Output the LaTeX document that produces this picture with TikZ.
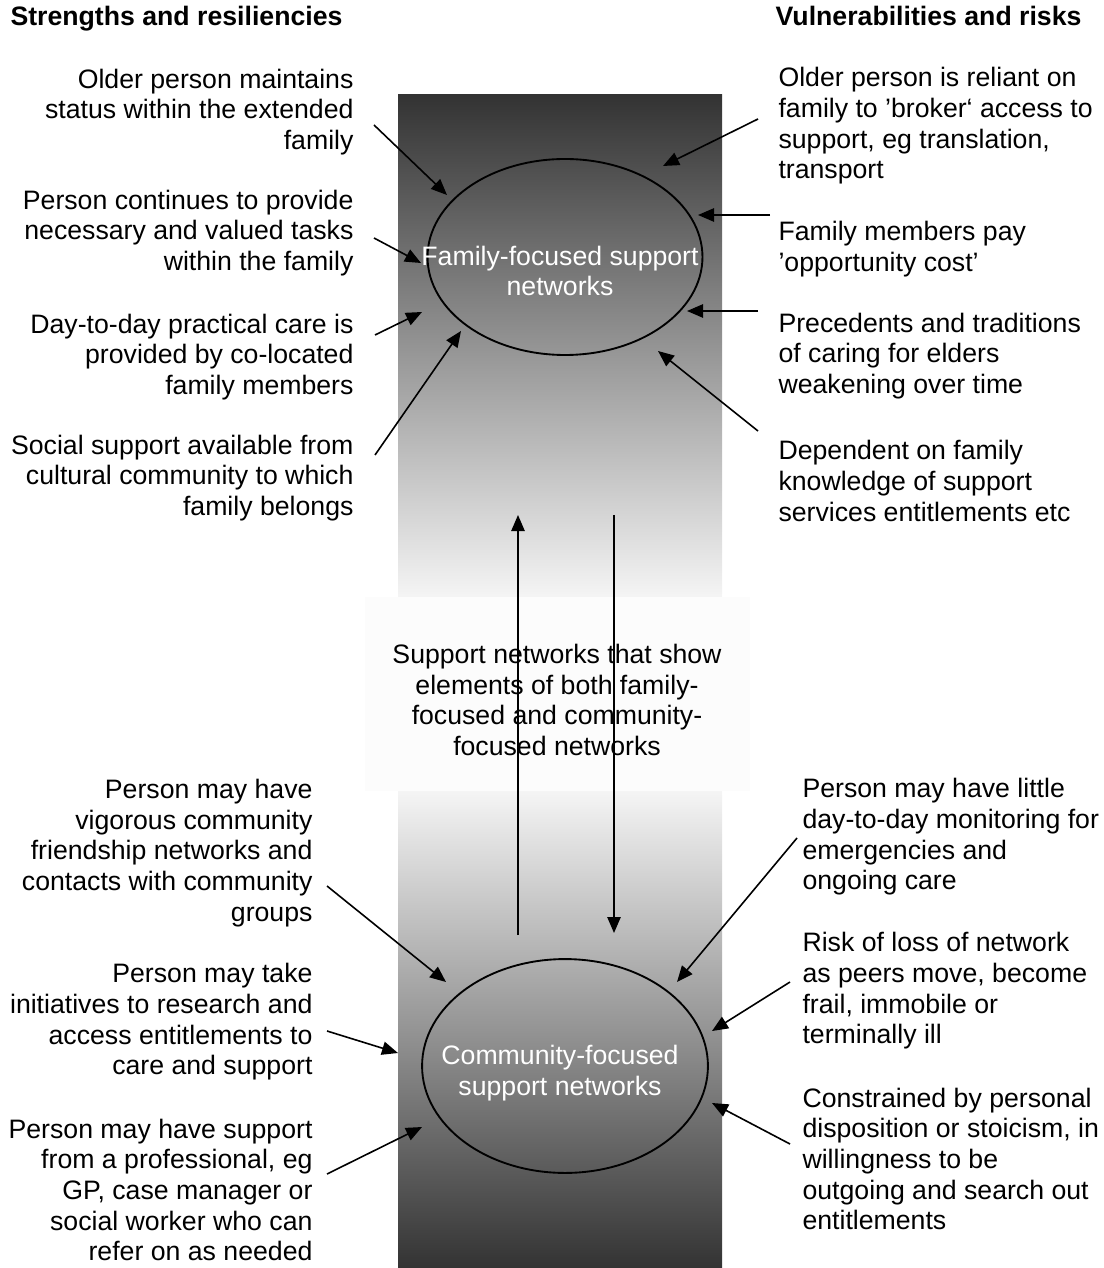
\documentclass[tikz,border=0pt]{standalone}
\usepackage{fontspec}
\setmainfont{Liberation Sans}
\usetikzlibrary{arrows.meta,shapes.geometric}
\definecolor{coldark}{gray}{0.2}
\definecolor{colpale}{gray}{0.96}
\definecolor{colmid}{gray}{0.988}

\begin{document}
\begin{tikzpicture}[x=0.375pt, y=-0.375pt,
    every node/.style={font=\fontsize{10}{11.5}\selectfont, inner sep=0pt},
    lefttxt/.style={anchor=east, align=right},
    righttxt/.style={anchor=west, align=left},
    headtxt/.style={font=\fontsize{10}{12}\selectfont\bfseries},
    oval/.style={draw, ellipse, line width=0.7pt},
    ovaltxt/.style={text=white, align=center},
    arr/.style={-{Triangle[length=6pt,width=5pt]}, line width=0.6pt}]
    \useasboundingbox (0,0) rectangle (1104,1268);
    % shaded column behind the networks
    \shade[top color=coldark, bottom color=colpale] (398,95) rectangle (722,597);
    \shade[top color=colpale, bottom color=coldark] (398,791) rectangle (722,1268);
    \fill[colmid] (365,597) rectangle (750,791);
    % headings
    \node[headtxt, anchor=base west] (hstr) at (10,26) {Strengths and resiliencies};
    \node[headtxt, anchor=base east] (hvul) at (1082,26) {Vulnerabilities and risks};
    % the two networks
    \node[oval, minimum width=103.1pt, minimum height=73.5pt] (fam) at (565,257) {};
    \node[ovaltxt] (famtxt) at (560,271) {Family-focused support\\networks};
    \node[oval, minimum width=107.2pt, minimum height=80.2pt] (com) at (565,1066) {};
    \node[ovaltxt] (comtxt) at (560,1073) {Community-focused\\support networks};
    \node[align=center] (mixtxt) at (557,700) {Support networks that show\\elements of both family-\\focused and community-\\focused networks};
    % strengths, family side
    \node[lefttxt] (sf1) at (354,112) {Older person maintains\\status within the extended\\family};
    \node[lefttxt] (sf2) at (354,233) {Person continues to provide\\necessary and valued tasks\\within the family};
    \node[lefttxt] (sf3) at (354,357) {Day-to-day practical care is\\provided by co-located\\family members};
    \node[lefttxt] (sf4) at (354,478) {Social support available from\\cultural community to which\\family belongs};
    % risks, family side
    \node[righttxt] (rf1) at (778,126) {Older person is reliant on\\family to ’broker‘ access to\\support, eg translation,\\transport};
    \node[righttxt] (rf2) at (778,249) {Family members pay\\’opportunity cost’};
    \node[righttxt] (rf3) at (778,356) {Precedents and traditions\\of caring for elders\\weakening over time};
    \node[righttxt] (rf4) at (778,481) {Dependent on family\\knowledge of support\\services entitlements etc};
    % strengths, community side
    \node[lefttxt] (sc1) at (313,853) {Person may have\\vigorous community\\friendship networks and\\contacts with community\\groups};
    \node[lefttxt] (sc2) at (313,1022) {Person may take\\initiatives to research and\\access entitlements to\\care and support};
    \node[lefttxt] (sc3) at (313,1190) {Person may have support\\from a professional, eg\\GP, case manager or\\social worker who can\\refer on as needed};
    % risks, community side
    \node[righttxt] (rc1) at (802,837) {Person may have little\\day-to-day monitoring for\\emergencies and\\ongoing care};
    \node[righttxt] (rc2) at (802,991) {Risk of loss of network\\as peers move, become\\frail, immobile or\\terminally ill};
    \node[righttxt] (rc3) at (802,1159) {Constrained by personal\\disposition or stoicism, in\\willingness to be\\outgoing and search out\\entitlements};
    % arrow ends
    \coordinate (sf1a) at (374,125);  \coordinate (sf1b) at (447,195);
    \coordinate (sf2a) at (374,238);  \coordinate (sf2b) at (421,263);
    \coordinate (sf3a) at (375,335);  \coordinate (sf3b) at (422,312);
    \coordinate (sf4a) at (375,455);  \coordinate (sf4b) at (461,331);
    \coordinate (rf1a) at (758,119);  \coordinate (rf1b) at (663,166);
    \coordinate (rf2a) at (770,215);  \coordinate (rf2b) at (698,215);
    \coordinate (rf3a) at (758,311);  \coordinate (rf3b) at (687,311);
    \coordinate (rf4a) at (758,431);  \coordinate (rf4b) at (658,351);
    \coordinate (sc1a) at (327,886);  \coordinate (sc1b) at (446,982);
    \coordinate (sc2a) at (327,1031); \coordinate (sc2b) at (398,1053);
    \coordinate (sc3a) at (327,1174); \coordinate (sc3b) at (422,1127);
    \coordinate (rc1a) at (797,838);  \coordinate (rc1b) at (677,982);
    \coordinate (rc2a) at (790,982);  \coordinate (rc2b) at (712,1031);
    \coordinate (rc3a) at (790,1144); \coordinate (rc3b) at (712,1103);
    \coordinate (upa) at (518,935);   \coordinate (upb) at (518,515);
    \coordinate (dna) at (614,515);   \coordinate (dnb) at (614,933);
    % arrows
    \draw[arr] (sf1a) -- (sf1b);
    \draw[arr] (sf2a) -- (sf2b);
    \draw[arr] (sf3a) -- (sf3b);
    \draw[arr] (sf4a) -- (sf4b);
    \draw[arr] (rf1a) -- (rf1b);
    \draw[arr] (rf2a) -- (rf2b);
    \draw[arr] (rf3a) -- (rf3b);
    \draw[arr] (rf4a) -- (rf4b);
    \draw[arr] (sc1a) -- (sc1b);
    \draw[arr] (sc2a) -- (sc2b);
    \draw[arr] (sc3a) -- (sc3b);
    \draw[arr] (rc1a) -- (rc1b);
    \draw[arr] (rc2a) -- (rc2b);
    \draw[arr] (rc3a) -- (rc3b);
    \draw[arr] (upa) -- (upb);
    \draw[arr] (dna) -- (dnb);
\end{tikzpicture}
\end{document}
